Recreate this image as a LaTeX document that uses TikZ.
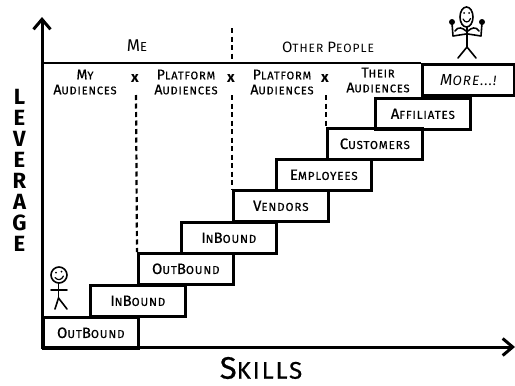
\documentclass[tikz,border=0pt]{standalone}
\usepackage{fontspec}
\setmainfont{Fira Sans}[LetterSpace=8]
\newfontfamily\marker{Fira Sans}[LetterSpace=8, FakeBold=0.6]
\usetikzlibrary{arrows.meta}
% enlarged initial letter for the hand-lettered small-caps look
\newcommand\ini[1]{{\fontsize{15}{15}\selectfont #1}}
\newcommand\hdi[1]{{\fontsize{14}{14}\selectfont #1}}

\begin{document}
\begin{tikzpicture}[x=1pt,y=-1pt,
  axis/.style={line width=3pt, -{Straight Barb[length=10pt,width=17pt]}},
  rule/.style={line width=2.5pt},
  divider/.style={line width=2.2pt, dash pattern=on 5pt off 3.5pt},
  stepbox/.style={draw, line width=2.6pt, minimum width=95pt, minimum height=31pt,
    anchor=north west, inner sep=0pt, font=\marker\fontsize{11.5}{11.5}\selectfont},
  head/.style={inner sep=0pt, align=center, font=\marker\fontsize{11}{15}\selectfont},
  xmark/.style={inner sep=0pt, font=\bfseries\fontsize{15}{15}\selectfont},
  figure/.style={line width=1.6pt, line cap=round, line join=round}
]
\useasboundingbox (0,0) rectangle (515,386);

% axes
\coordinate (origin) at (42,347);
\coordinate (ytop) at (42,17);
\coordinate (xend) at (515,347);
\draw[axis] (42,348.5) -- (ytop);
\draw[axis] (origin) -- (xend);

% axis titles
\node[inner sep=0pt, align=center, font=\bfseries\fontsize{22}{21}\selectfont] (lev)
  at (19.5,170) {L\\E\\V\\E\\R\\A\\G\\E};
\node[inner sep=0pt, font=\marker] (skills) at (261,368)
  {\fontsize{31}{31}\selectfont S\fontsize{24}{24}\selectfont KILLS};

% staircase of skills
\node[stepbox] (b1) at (42,316)  {\ini{O}UT\ini{B}OUND};
\node[stepbox] (b2) at (89,284)  {\ini{I}N\ini{B}OUND};
\node[stepbox] (b3) at (137,252) {\ini{O}UT\ini{B}OUND};
\node[stepbox] (b4) at (180,221) {\ini{I}N\ini{B}OUND};
\node[stepbox] (b5) at (232,189) {\ini{V}ENDORS};
\node[stepbox] (b6) at (275,158) {\ini{E}MPLOYEES};
\node[stepbox] (b7) at (326,127) {\ini{C}USTOMERS};
\node[stepbox] (b8) at (374,97)  {\ini{A}FFILIATES};
\node[stepbox, minimum width=92pt, font=\itshape\fontsize{13.5}{13.5}\selectfont] (b9) at (421,63)
  {\fontsize{16}{16}\selectfont M\fontsize{13.5}{13.5}\selectfont ORE...!};

% header band
\draw[rule] (42,63) -- (b9.north west);
\node[inner sep=0pt] (me) at (137,46)
  {\fontsize{17}{17}\selectfont M\fontsize{13}{13}\selectfont E};
\node[inner sep=0pt] (others) at (328,47)
  {\fontsize{15}{15}\selectfont O\fontsize{12}{12}\selectfont THER
   \fontsize{15}{15}\selectfont P\fontsize{12}{12}\selectfont EOPLE};
\coordinate (split top) at (232,28);
\coordinate (split bot) at (232,63);
\draw[divider] (split top) -- (split bot);

\node[head] (aud1) at (85,82) {\hdi{M}Y\\\hdi{A}UDIENCES};
\node[head] (aud2) at (186,82) {\hdi{P}LATFORM\\\hdi{A}UDIENCES};
\node[head] (aud3) at (282,82) {\hdi{P}LATFORM\\\hdi{A}UDIENCES};
\node[head] (aud4) at (378,80) {\hdi{T}HEIR\\\hdi{A}UDIENCES};

\node[xmark] (x1) at (135,79) {x};
\node[xmark] (x2) at (231,79) {x};
\node[xmark] (x3) at (325,79) {x};

\coordinate (d1) at (136,95);
\coordinate (d2) at (232,95);
\coordinate (d3) at (326,95);
\draw[divider] (d1) -- (b3.north west);
\draw[divider] (d2) -- (b5.north west);
\draw[divider] (d3) -- (b7.north west);

% little figure at the bottom step
\draw[figure] (59,275) circle (8);
\fill (56,272.5) circle (1);
\fill (61.5,271.5) circle (1);
\draw[figure, line width=1.2pt] (55,277.5) .. controls (58,281) and (61.5,280) .. (63.5,276);
\draw[figure] (58.5,283) -- (58.5,298);
\draw[figure] (51,290) -- (67,290);
\draw[figure] (58.5,298) -- (55,309);
\draw[figure] (58.5,298) -- (67,309);

% strong figure at the top
\draw[figure] (466.5,17) ellipse (6.5 and 10);
\fill (464,13) circle (1);
\fill (469,13) circle (1);
\draw[figure, line width=1.2pt] (463,19) .. controls (465,23) and (469,23) .. (470.5,18.5);
\draw[figure] (467,27) -- (467,47);
\draw[figure] (452,23) -- (453,36) -- (466,34);
\draw[figure] (455,31) .. controls (458,26) and (463,28) .. (466,31);
\draw[figure] (482,23) -- (481,36) -- (468,34);
\draw[figure] (479,31) .. controls (476,26) and (471,28) .. (468,31);
\fill (452,22) circle (3);
\fill (482,22) circle (3);
\draw[figure] (467,47) -- (458,58);
\draw[figure] (467,47) -- (476,58);
\end{tikzpicture}
\end{document}
